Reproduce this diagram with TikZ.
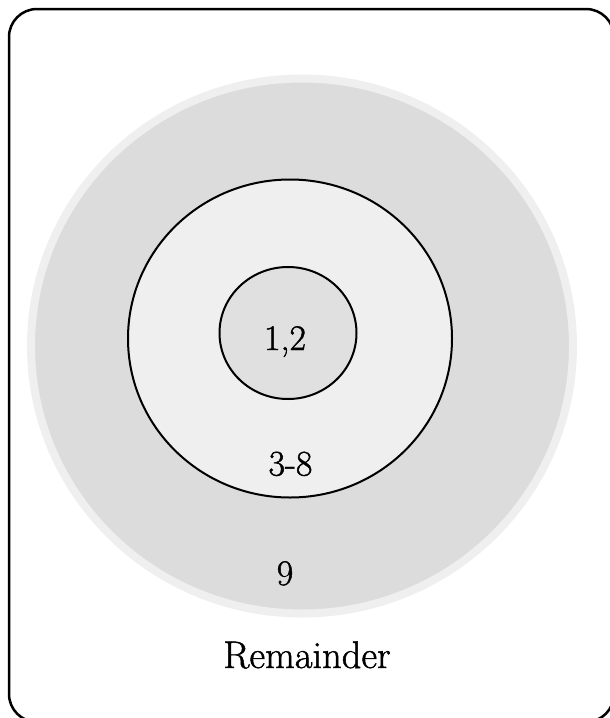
\documentclass[tikz,border=0pt]{standalone}
\usepackage{fontspec}
% slightly heavier strokes for the labels
\newfontfamily\lblfont{Latin Modern Roman}[UprightFeatures={FakeBold=1.2}]
\begin{document}
\begin{tikzpicture}[x=1pt,y=-1pt,
  frame/.style={draw=black,line width=2.5pt,rounded corners=28pt},
  ringouter/.style={draw=ringline,line width=8pt,fill=ringfill},
  ringmid/.style={draw=black,line width=2pt,fill=midfill},
  ringinner/.style={draw=black,line width=2pt,fill=innerfill},
  numlabel/.style={anchor=base,inner sep=0pt,font=\lblfont\fontsize{36}{40}\selectfont},
  caption/.style={anchor=base,inner sep=0pt,font=\lblfont\fontsize{38.5}{44}\selectfont}]
  \definecolor{ringline}{HTML}{EFEFEF}
  \definecolor{ringfill}{HTML}{DCDCDC}
  \definecolor{midfill}{HTML}{EFEFEF}
  \definecolor{innerfill}{HTML}{E0E0E0}
  \useasboundingbox (0,0) rectangle (610,718);
  % outer frame (runs past the right and bottom edges of the page)
  \draw[frame] (9,9) rectangle (614,722);
  % nested regions
  \draw[ringouter] (302,346) ellipse [x radius=271, y radius=267.5];
  \draw[ringmid] (290,338.5) ellipse [x radius=162, y radius=159];
  \draw[ringinner] (288,333) ellipse [x radius=68.5, y radius=66];
  % labels
  \node[numlabel] (core) at (285,350) {1,2};
  \node[numlabel] (middle) at (290.5,475.5) {3-8};
  \node[numlabel] (outer) at (285,585) {9};
  \node[caption] (rest) at (307,668) {Remainder};
\end{tikzpicture}
\end{document}
